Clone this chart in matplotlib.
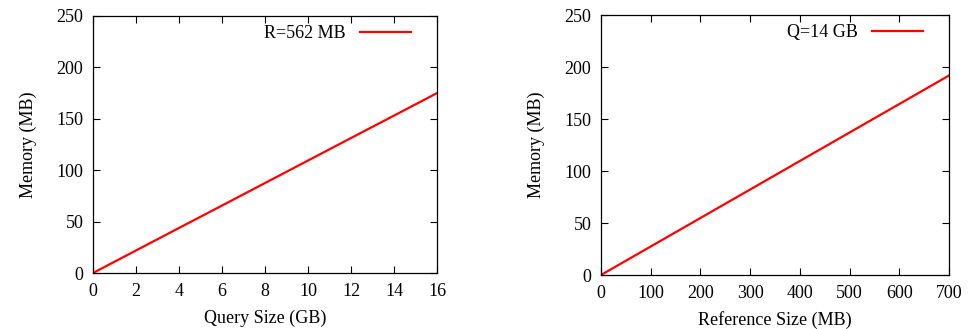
import matplotlib.pyplot as plt

plt.rcParams['font.family'] = ['Liberation Serif', 'DejaVu Serif']
plt.rcParams['font.size'] = 13

# left panel: memory vs query size, R = 562 MB
query_gb = [0, 2, 4, 6, 8, 10, 12, 14, 16]
mem_query = [0, 21.9, 43.8, 65.6, 87.5, 109.4, 131.3, 153.1, 175]

# right panel: memory vs reference size, Q = 14 GB
ref_mb = [0, 100, 200, 300, 400, 500, 600, 700]
mem_ref = [0, 27.4, 54.8, 82.2, 109.6, 137, 164.4, 191.8]

fig = plt.figure(figsize=(9.68, 3.29), dpi=100)
ax1 = fig.add_axes([93 / 968, 56 / 329, 344 / 968, 257 / 329])
ax2 = fig.add_axes([601 / 968, 54 / 329, 348 / 968, 260 / 329])

panels = [
    (ax1, query_gb, mem_query, 'R=562 MB', 'Query Size (GB)', 16, range(0, 17, 2)),
    (ax2, ref_mb, mem_ref, 'Q=14 GB', 'Reference Size (MB)', 700, range(0, 701, 100)),
]

for ax, x, y, label, xlabel, xmax, xticks in panels:
    ax.plot(x, y, color='#ff0000', lw=1.6, label=label)
    ax.set_xlim(0, xmax)
    ax.set_ylim(0, 250)
    ax.set_xticks(list(xticks))
    ax.set_yticks(range(0, 251, 50))
    ax.set_xlabel(xlabel, labelpad=7)
    ax.set_ylabel('Memory (MB)', labelpad=14)
    ax.tick_params(direction='in', top=True, right=True, length=5, width=0.8, pad=7)
    for s in ax.spines.values():
        s.set_linewidth(0.9)
    ax.legend(loc='upper right', frameon=False, markerfirst=False, handlelength=2.8,
              borderaxespad=0.1, bbox_to_anchor=(0.95, 1.0))

fig.savefig('out.png', dpi=100)
